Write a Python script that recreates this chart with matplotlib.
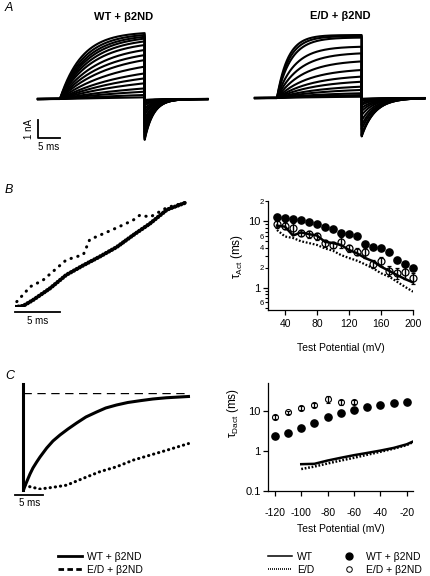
import numpy as np
import matplotlib
matplotlib.use("Agg")
import matplotlib.pyplot as plt
from matplotlib.lines import Line2D
from matplotlib.ticker import FixedLocator, FixedFormatter, NullLocator

plt.rcParams['font.family'] = ['Liberation Sans', 'DejaVu Sans']
plt.rcParams['mathtext.default'] = 'regular'
plt.rcParams['axes.unicode_minus'] = False

W, H = 431, 576

# ---- Panel A: current families (end-of-step current in nA, activation tau in ms)
T_ON, T_OFF, T_END = 5.0, 24.3, 38.6
wt_amp_end = [3.6, 3.5, 3.4, 3.3, 3.15, 2.95, 2.68, 2.4, 2.13, 1.77, 1.4, 1.13, 0.86, 0.58, 0.4, 0.22, 0.09]
wt_tau_act = [5.0, 5.5, 6.0, 6.5, 7.0, 7.5, 8.5, 9.5, 11.0, 13.0, 15.0, 17.0, 19.0, 21.0, 24.0, 27.0, 30.0]
wt_tail_ratio, wt_tau_deact = 0.62, 2.0
ed_amp_end = [3.44, 3.38, 3.3, 2.8, 2.44, 2.0, 1.53, 1.17, 0.89, 0.62, 0.44, 0.26, 0.16, 0.07]
ed_tau_act = [2.5, 2.8, 3.2, 4.0, 5.0, 6.0, 7.0, 8.0, 9.0, 10.0, 11.0, 12.0, 13.0, 14.0]
ed_tail_ratio, ed_tau_deact = 0.61, 3.0

# ---- Panel B left: normalised activation traces (time in ms)
b_wt_t = [0.0, 0.9, 2.0, 3.9, 5.7, 7.6, 9.4, 11.3, 13.1, 15.0, 16.9, 19.1]
b_wt_y = [0.0, 0.01, 0.065, 0.175, 0.30, 0.39, 0.47, 0.56, 0.67, 0.78, 0.91, 0.98]
b_ed_t = [0.2, 1.7, 3.1, 5.7, 7.6, 8.3, 9.4, 11.3, 13.1, 13.9, 15.0, 16.9, 19.1]
b_ed_y = [0.05, 0.19, 0.25, 0.44, 0.49, 0.63, 0.67, 0.74, 0.81, 0.86, 0.84, 0.93, 0.98]

# ---- Panel B right: tau activation vs test potential
b_pot = [30, 40, 50, 60, 70, 80, 90, 100, 110, 120, 130, 140, 150, 160, 170, 180, 190, 200]
b_wt_b2 = [11.7, 11.1, 10.7, 10.4, 9.9, 9.0, 8.1, 7.6, 6.7, 6.4, 5.9, 4.5, 4.1, 3.9, 3.5, 2.6, 2.25, 1.96]
b_ed_b2 = [9.0, 8.6, 8.0, 6.7, 6.4, 6.0, 4.7, 4.4, 4.9, 3.9, 3.5, 3.4, 2.3, 2.5, 1.8, 1.65, 1.7, 1.4]
b_ed_b2_err = [1.0, 1.0, 1.5, 0.8, 0.8, 0.7, 0.6, 0.5, 0.9, 0.5, 0.4, 0.6, 0.3, 0.4, 0.3, 0.3, 0.35, 0.25]
b_wt = [8.6, 8.3, 6.1, 6.8, 6.4, 6.1, 4.9, 4.7, 4.4, 3.7, 3.3, 2.8, 2.5, 2.07, 1.8, 1.55, 1.35, 1.2]
b_ed = [7.4, 5.9, 5.6, 5.0, 4.7, 4.4, 3.9, 3.6, 3.1, 2.8, 2.55, 2.25, 1.96, 1.65, 1.47, 1.23, 1.03, 0.87]

# ---- Panel C left: normalised deactivation traces (time in ms)
c_wt_t = [0.09, 0.35, 0.71, 1.23, 1.76, 2.42, 3.0, 4.18, 5.29, 6.53, 7.94, 9.47, 11.1,
          13.0, 14.6, 16.5, 18.5, 20.6, 22.9, 25.3, 29.2]
c_wt_y = [0.0, 0.041, 0.093, 0.165, 0.228, 0.29, 0.341, 0.434, 0.507, 0.569, 0.631, 0.693, 0.755,
          0.807, 0.848, 0.879, 0.905, 0.923, 0.941, 0.954, 0.967]
c_ed_t = [0.3, 1.2, 3.0, 5.3, 7.7, 10.6, 13.6, 16.5, 19.5, 22.4, 25.3, 29.2]
c_ed_y = [0.05, 0.034, 0.01, 0.028, 0.05, 0.12, 0.19, 0.24, 0.31, 0.36, 0.41, 0.48]

# ---- Panel C right: tau deactivation vs test potential
c_pot = [-120, -110, -100, -90, -80, -70, -60, -50, -40, -30, -20]
c_wt_b2 = [2.4, 2.9, 3.7, 5.2, 7.2, 8.8, 11.0, 12.6, 13.9, 15.6, 16.8]
c_ed_pot = [-120, -110, -100, -90, -80, -70, -60]
c_ed_b2 = [7.0, 9.3, 12.1, 14.4, 20.0, 17.1, 17.1]
c_ed_b2_err = [0.8, 0.8, 1.3, 1.3, 3.5, 2.5, 2.2]
c_line_pot = [-100, -90, -80, -70, -60, -50, -40, -30, -20, -15]
c_wt = [0.47, 0.48, 0.58, 0.68, 0.79, 0.90, 1.03, 1.20, 1.48, 1.75]
c_ed = [0.355, 0.41, 0.49, 0.58, 0.68, 0.81, 0.96, 1.15, 1.41, 1.70]


def px_axes(fig, left, top, right, bottom):
    return fig.add_axes([left / W, 1 - bottom / H, (right - left) / W, (bottom - top) / H])


def current_trace(t, amp_end, tau, tail_ratio, tau_d):
    i = np.zeros_like(t)
    on = (t >= T_ON) & (t <= T_OFF)
    a_inf = amp_end / (1 - np.exp(-(T_OFF - T_ON) / tau))
    i[on] = a_inf * (1 - np.exp(-(t[on] - T_ON) / tau))
    off = t > T_OFF
    i[off] = -tail_ratio * amp_end * np.exp(-(t[off] - T_OFF) / tau_d)
    return i


def draw_family(ax, amps, taus, ratio, tau_d):
    t = np.concatenate([np.linspace(0, T_OFF, 1500), np.linspace(T_OFF + 1e-4, T_END, 1500)])
    for a, tau in zip(amps, taus):
        ax.plot(t, current_trace(t, a, tau, ratio, tau_d), color='black', lw=1.5)
    ax.set_xlim(-1, 40)
    ax.set_ylim(-2.6, 4.0)
    ax.axis('off')


fig = plt.figure(figsize=(W / 100, H / 100), dpi=100)

# ---------------- A
axA1 = px_axes(fig, 33.6, 25.8, 213.6, 146.6)
draw_family(axA1, wt_amp_end, wt_tau_act, wt_tail_ratio, wt_tau_deact)
axA1.plot([0, 0, 5], [-1.15, -2.15, -2.15], color='black', lw=1.3, clip_on=False)
axA1.text(-2.0, -1.65, '1 nA', rotation=90, ha='center', va='center', fontsize=7)
axA1.text(2.5, -2.35, '5 ms', ha='center', va='top', fontsize=7)
axA1.set_title('WT + β2ND', fontsize=8, fontweight='bold', pad=4)

axA2 = px_axes(fig, 250.6, 24.8, 430.6, 145.6)
draw_family(axA2, ed_amp_end, ed_tau_act, ed_tail_ratio, ed_tau_deact)
axA2.set_title('E/D + β2ND', fontsize=8, fontweight='bold', pad=4)

# ---------------- B left
axB1 = px_axes(fig, 15, 200, 195, 307)
axB1.plot(b_wt_t, b_wt_y, color='black', lw=3.0, ls=(0, (0.1, 0.7)), dash_capstyle='round')
axB1.plot(b_ed_t, b_ed_y, color='black', lw=2.2, ls=(0, (0.1, 2.2)), dash_capstyle='round')
axB1.plot([0, 5], [-0.047, -0.047], color='black', lw=1.3, clip_on=False)
axB1.text(2.5, -0.08, '5 ms', ha='center', va='top', fontsize=7)
axB1.set_xlim(0, 20)
axB1.set_ylim(0, 1)
axB1.axis('off')

# ---------------- B right
axB2 = px_axes(fig, 268, 201.3, 413, 310)
axB2.plot(b_pot, b_wt, color='black', lw=1.8, zorder=2)
axB2.plot(b_pot, b_ed, color='black', lw=1.6, ls=(0, (0.8, 0.8)), zorder=2)
axB2.errorbar(b_pot, b_ed_b2, yerr=b_ed_b2_err, fmt='o', ms=5, mfc='none', mec='black',
              mew=0.9, ecolor='black', elinewidth=1.0, capsize=1.5, zorder=3, clip_on=False)
axB2.plot(b_pot, b_wt_b2, 'o', color='black', ms=5.2, zorder=4, clip_on=False)
axB2.set_yscale('log')
axB2.set_xlim(18.75, 200)
axB2.set_ylim(0.461, 20)
axB2.xaxis.set_major_locator(FixedLocator([40, 80, 120, 160, 200]))
axB2.yaxis.set_major_locator(FixedLocator([1, 10]))
axB2.yaxis.set_major_formatter(FixedFormatter(['1', '10']))
axB2.yaxis.set_minor_locator(FixedLocator([0.5, 0.6, 0.7, 0.8, 0.9, 2, 3, 4, 5, 6, 7, 8, 9, 20]))
axB2.yaxis.set_minor_formatter(FixedFormatter(['', '6', '', '', '', '2', '', '4', '', '6', '', '', '', '2']))
axB2.tick_params(axis='both', which='major', labelsize=8, length=3.5, width=0.9, pad=2)
axB2.tick_params(axis='y', which='minor', labelsize=5.5, length=2, width=0.8, pad=1)
axB2.tick_params(axis='x', labelsize=7.5, pad=3)
axB2.set_xlabel('Test Potential (mV)', fontsize=7.5, labelpad=10)
axB2.set_ylabel('τ$_{Act}$ (ms)', fontsize=8.5)
axB2.yaxis.set_label_coords(-0.16, 0.49)

# ---------------- C left
axC1 = px_axes(fig, 23, 393.3, 193, 490)
axC1.plot([0, 0], [0, 1.1], color='black', lw=2.2, clip_on=False)
axC1.plot([0, 29.2], [1, 1], color='black', lw=1.0, ls=(0, (6, 4)))
axC1.plot(c_wt_t, c_wt_y, color='black', lw=2.2)
axC1.plot(c_ed_t, c_ed_y, color='black', lw=2.2, ls=(0, (0.1, 1.6)), dash_capstyle='round')
axC1.plot([-1.4, 3.6], [-0.05, -0.05], color='black', lw=1.3, clip_on=False)
axC1.text(1.1, -0.08, '5 ms', ha='center', va='top', fontsize=7)
axC1.set_xlim(0, 30)
axC1.set_ylim(0, 1)
axC1.axis('off')

# ---------------- C right
axC2 = px_axes(fig, 268.3, 383.3, 413.3, 491)
axC2.plot(c_line_pot, c_wt, color='black', lw=1.8, zorder=2)
axC2.plot(c_line_pot, c_ed, color='black', lw=1.8, ls=(0, (0.7, 0.7)), zorder=2)
axC2.errorbar(c_ed_pot, c_ed_b2, yerr=c_ed_b2_err, fmt='o', ms=4.3, mfc='none', mec='black',
              mew=0.8, ecolor='black', elinewidth=0.9, capsize=1.3, zorder=3)
axC2.plot(c_pot, c_wt_b2, 'o', color='black', ms=5.2, zorder=4, clip_on=False)
axC2.set_yscale('log')
axC2.set_xlim(-125, -15)
axC2.set_ylim(0.1, 50)
axC2.xaxis.set_major_locator(FixedLocator([-120, -100, -80, -60, -40, -20]))
axC2.yaxis.set_major_locator(FixedLocator([0.1, 1, 10]))
axC2.yaxis.set_major_formatter(FixedFormatter(['0.1', '1', '10']))
axC2.yaxis.set_minor_locator(NullLocator())
axC2.tick_params(axis='both', which='major', length=3.5, width=0.9)
axC2.tick_params(axis='x', labelsize=7.5, pad=9)
axC2.tick_params(axis='y', labelsize=8, pad=2)
axC2.set_xlabel('Test Potential (mV)', fontsize=7.5, labelpad=4)
axC2.set_ylabel('τ$_{Dact}$ (ms)', fontsize=8.5)
axC2.yaxis.set_label_coords(-0.19, 0.72)

for ax in (axB2, axC2):
    for side in ('top', 'right'):
        ax.spines[side].set_visible(False)
    for side in ('left', 'bottom'):
        ax.spines[side].set_linewidth(0.9)

# panel letters
for letter, y in (('A', 8), ('B', 190), ('C', 376)):
    fig.text(5 / W, 1 - y / H, letter, fontsize=9, style='italic', va='center', ha='left')

# legends
leg_kw = dict(frameon=False, fontsize=7.5, borderpad=0, borderaxespad=0,
              handlelength=2.3, handletextpad=0.5, labelspacing=0.25, loc='upper left')
left_handles = [Line2D([], [], color='black', lw=2.0),
                Line2D([], [], color='black', lw=2.0, ls=(0, (2, 1.2)))]
fig.legend(left_handles, ['WT + β2ND', 'E/D + β2ND'],
           bbox_to_anchor=(58 / W, 1 - 552 / H), **leg_kw)

right_handles = [Line2D([], [], color='black', lw=1.1),
                 Line2D([], [], color='black', lw=1.2, ls=(0, (0.6, 0.6))),
                 Line2D([], [], color='black', ls='none', marker='o', ms=5),
                 Line2D([], [], color='black', ls='none', marker='o', ms=4, mfc='white', mew=0.7)]
fig.legend(right_handles, ['WT', 'E/D', 'WT + β2ND', 'E/D + β2ND'], ncol=2,
           columnspacing=2.2, bbox_to_anchor=(268 / W, 1 - 552 / H), **leg_kw)

fig.savefig('out.png', dpi=100)
